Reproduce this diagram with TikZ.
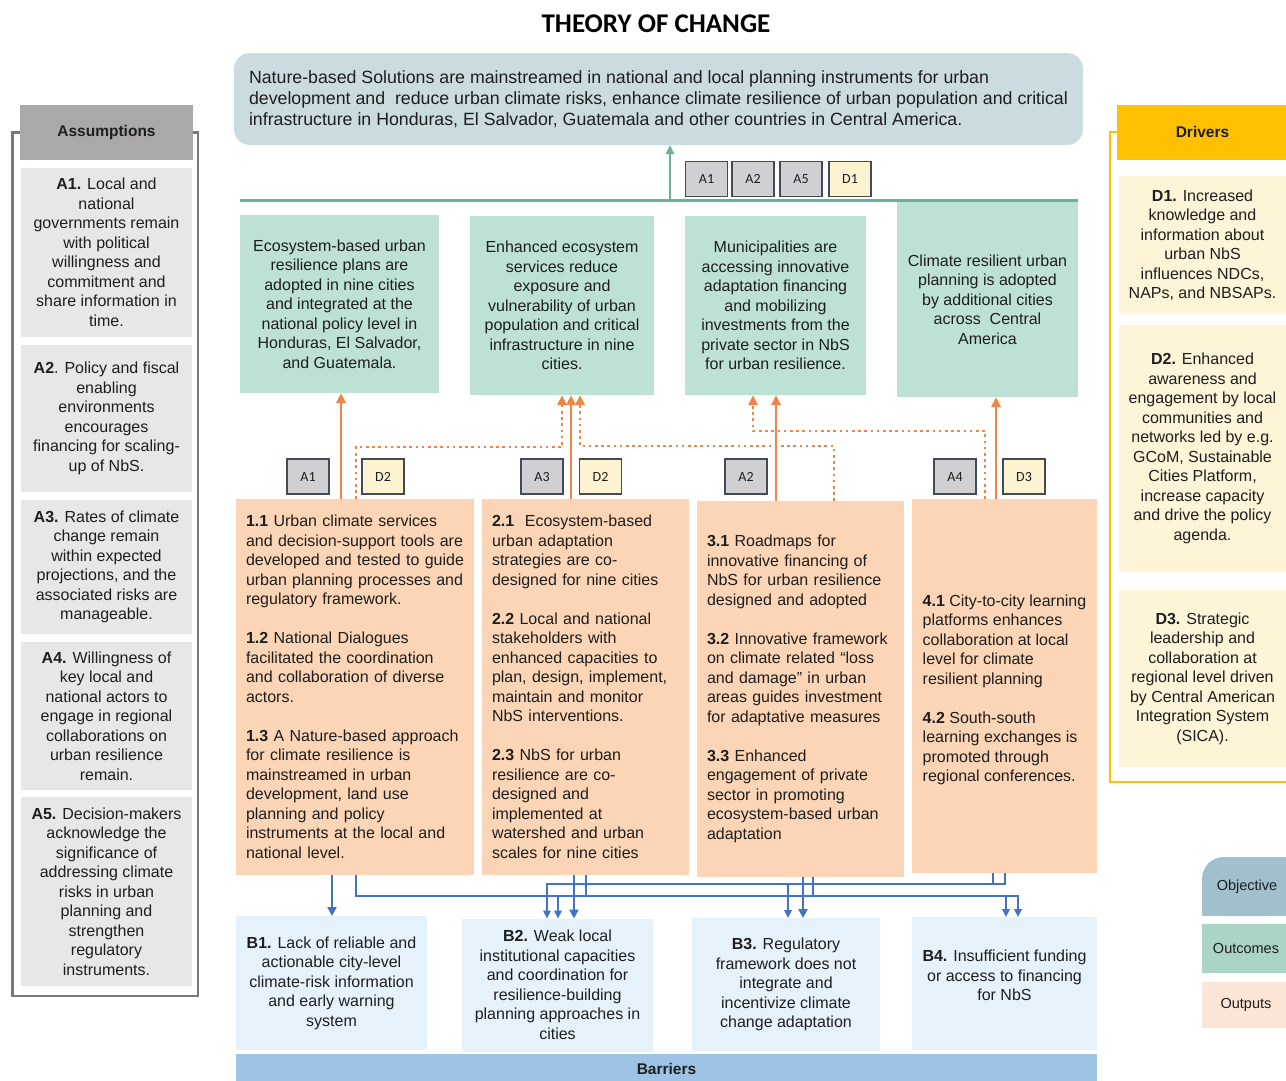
\documentclass[tikz,border=0pt]{standalone}
\usepackage{fontspec}
\setmainfont{Liberation Sans}
\newfontfamily\calib{Carlito}
\usetikzlibrary{arrows.meta}
\definecolor{txt}{HTML}{1E1E1E}
\definecolor{objfill}{HTML}{CBDCE0}
\definecolor{outcfill}{HTML}{BEE1D6}
\definecolor{outpfill}{HTML}{FBD5B5}
\definecolor{barfill}{HTML}{E6F2FB}
\definecolor{barbar}{HTML}{9DC3E6}
\definecolor{asmcell}{HTML}{E7E7E7}
\definecolor{asmhead}{HTML}{ABA8A8}
\definecolor{asmline}{HTML}{7A7A7A}
\definecolor{drvcell}{HTML}{FEF4D7}
\definecolor{drvhead}{HTML}{FFC000}
\definecolor{taggray}{HTML}{D0CFD3}
\definecolor{tagyel}{HTML}{FEF3D0}
\definecolor{tagline}{HTML}{434A58}
\definecolor{grn}{HTML}{6FAE9A}
\definecolor{org}{HTML}{EF8546}
\definecolor{blu}{HTML}{4472C4}
\definecolor{legobj}{HTML}{9FC0CC}
\definecolor{legoutc}{HTML}{A9D4C6}
\definecolor{legoutp}{HTML}{FCE4D6}
\newcommand\bodyf{\fontsize{16}{19.5}\selectfont}
\newcommand\objf{\fontsize{17.75}{21}\selectfont}
\newcommand\headf{\fontsize{15.5}{18}\selectfont\bfseries}
\newcommand\legf{\fontsize{14.5}{17}\selectfont}
\newcommand\tagf{\calib\fontsize{14}{16}\selectfont}
\begin{document}
\begin{tikzpicture}[x=1pt,y=-1pt,
  box/.style={inner sep=0pt, outer sep=0pt, text=txt, font=\bodyf},
  wh/.style 2 args={minimum width=#1pt, minimum height=#2pt},
  outc/.style={box, fill=outcfill, align=center},
  outp/.style={box, fill=outpfill, align=left},
  barr/.style={box, fill=barfill, align=center},
  asm/.style={box, fill=asmcell, align=center},
  drv/.style={box, fill=drvcell, align=center},
  tagg/.style={draw=tagline, line width=1.4pt, fill=taggray, inner sep=0pt, wh={42}{35}, font=\tagf, text=txt},
  tagy/.style={tagg, fill=tagyel},
  osolid/.style={draw=org, line width=2.6pt, -{Triangle[length=10pt,width=9pt]}},
  odot/.style={draw=org, line width=2.6pt, dash pattern=on 2.6pt off 3.6pt, -{Triangle[length=10pt,width=9pt]}},
  bthick/.style={draw=blu, line width=2.8pt, -{Triangle[length=9pt,width=9pt]}},
  bthin/.style={draw=blu, line width=2pt},
  btip/.style={bthin, -{Triangle[length=8pt,width=7.5pt]}},
]
\useasboundingbox (0,0) rectangle (1286,1080);
\fill[white] (0,0) rectangle (1286,1080);

% title
\node[font=\calib\bfseries\fontsize{27}{30}\selectfont, text=black, inner sep=0pt] (title) at (656,24) {THEORY OF CHANGE};

% objective
\node[box, fill=objfill, rounded corners=16pt, wh={849}{92}, align=left, font=\objf] (obj) at (658.5,99)
 {Nature-based Solutions are mainstreamed in national and local planning instruments for urban\\development and\ \ reduce urban climate risks, enhance climate resilience of urban population and critical\\infrastructure in Honduras, El Salvador, Guatemala and other countries in Central America.};

% green line and arrow
\coordinate (gl1) at (240,200);
\coordinate (gl2) at (1078,200);
\draw[grn, line width=3pt] (gl1) -- (gl2);
\draw[grn, line width=2.6pt, -{Triangle[length=9pt,width=8pt]}] (670,0 |- gl1) -- (670,0 |- obj.south);

% top tags
\node[tagg] (ta1) at (706.5,179) {A1};
\node[tagg] (ta2) at (753,179) {A2};
\node[tagg] (ta5) at (801,179) {A5};
\node[tagy] (td1) at (850,179) {D1};

% outcomes
\node[outc, wh={199}{178}] (o1) at (339.5,304) {Ecosystem-based urban\\resilience plans are\\adopted in nine cities\\and integrated at the\\national policy level in\\Honduras, El Salvador,\\and Guatemala.};
\node[outc, wh={184}{179}] (o2) at (562,305.5) {Enhanced ecosystem\\services reduce\\exposure and\\vulnerability of urban\\population and critical\\infrastructure in nine\\cities.};
\node[outc, wh={181}{179}] (o3) at (775.5,305.5) {Municipalities are\\accessing innovative\\adaptation financing\\and mobilizing\\investments from the\\private sector in NbS\\for urban resilience.};
\node[outc, wh={181}{195}] (o4) at (987.5,299.5) {Climate resilient urban\\planning is adopted\\by additional cities\\across\ \ Central\\America};

% second-row tags
\node[tagg] (tb1) at (308,476.5) {A1};
\node[tagy] (tb2) at (383,476.5) {D2};
\node[tagg] (tb3) at (542,476.5) {A3};
\node[tagy] (tb4) at (600.5,476.5) {D2};
\node[tagg] (tb5) at (746,476.5) {A2};
\node[tagg] (tb6) at (955,476.5) {A4};
\node[tagy] (tb7) at (1024,476.5) {D3};

% outputs
\node[outp, wh={238}{376}, text width=218pt, inner xsep=10pt] (p1) at (355,687) {\textbf{1.1} Urban climate services\\and decision-support tools are\\developed and tested to guide\\urban planning processes and\\regulatory framework.\\[19.5pt]\textbf{1.2} National Dialogues\\facilitated the coordination\\and collaboration of diverse\\actors.\\[19.5pt]\textbf{1.3} A Nature-based approach\\for climate resilience is\\mainstreamed in urban\\development, land use\\planning and policy\\instruments at the local and\\national level.};
\node[outp, wh={207}{376}, text width=187pt, inner xsep=10pt] (p2) at (585.5,687) {\textbf{2.1}\ \ Ecosystem-based\\urban adaptation\\strategies are co-\\designed for nine cities\\[19.5pt]\textbf{2.2} Local and national\\stakeholders with\\enhanced capacities to\\plan, design, implement,\\maintain and monitor\\NbS interventions.\\[19.5pt]\textbf{2.3} NbS for urban\\resilience are co-\\designed and\\implemented at\\watershed and urban\\scales for nine cities};
\node[outp, wh={207}{376}, text width=187pt, inner xsep=10pt] (p3) at (800.5,689) {\textbf{3.1} Roadmaps for\\innovative financing of\\NbS for urban resilience\\designed and adopted\\[19.5pt]\textbf{3.2} Innovative framework\\on climate related “loss\\and damage” in urban\\areas guides investment\\for adaptative measures\\[19.5pt]\textbf{3.3} Enhanced\\engagement of private\\sector in promoting\\ecosystem-based urban\\adaptation};
\node[outp, wh={185}{374}] (p4) at (1004.5,686) {\mbox{}\\\textbf{4.1} City-to-city learning\\platforms enhances\\collaboration at local\\level for climate\\resilient planning\\[19.5pt]\textbf{4.2} South-south\\learning exchanges is\\promoted through\\regional conferences.};

% barriers
\node[barr, wh={191}{134}] (b1) at (331.5,983) {\textbf{B1.} Lack of reliable and\\actionable city-level\\climate-risk information\\and early warning\\system};
\node[barr, wh={191}{133}] (b2) at (557.5,985) {\textbf{B2.} Weak local\\institutional capacities\\and coordination for\\resilience-building\\planning approaches in\\cities};
\node[barr, wh={188}{133}] (b3) at (786,984.5) {\textbf{B3.} Regulatory\\framework does not\\integrate and\\incentivize climate\\change adaptation};
\node[barr, wh={185}{133}] (b4) at (1004.5,983.5) {\textbf{B4.} Insufficient funding\\or access to financing\\for NbS\\[-3.5pt]};
\node[box, fill=barbar, wh={861}{30}, font=\headf, text=txt] (bar) at (666.5,1069) {Barriers};

% assumptions
\node[box, fill=asmhead, wh={173}{55}, font=\headf] (asmh) at (106.5,132.5) {Assumptions};
\draw[asmline, line width=2.6pt] (asmh.west) -- ++(-7.5,0) |- (198,996) |- (asmh.east);
\node[asm, wh={171}{169}] (a1) at (106.5,252.5) {\textbf{A1.} Local and\\national\\governments remain\\with political\\willingness and\\commitment and\\share information in\\time.};
\node[asm, wh={171}{147}] (a2) at (106.5,418.5) {\textbf{A2}. Policy and fiscal\\enabling\\environments\\encourages\\financing for scaling-\\up of NbS.};
\node[asm, wh={171}{134}] (a3) at (106.5,567) {\textbf{A3.} Rates of climate\\change remain\\within expected\\projections, and the\\associated risks are\\manageable.};
\node[asm, wh={171}{148}] (a4) at (106.5,716) {\textbf{A4.} Willingness of\\key local and\\national actors to\\engage in regional\\collaborations on\\urban resilience\\remain.};
\node[asm, wh={171}{189}] (a5) at (106.5,891.5) {\textbf{A5.} Decision-makers\\acknowledge the\\significance of\\addressing climate\\risks in urban\\planning and\\strengthen\\regulatory\\instruments.};

% drivers
\node[box, fill=drvhead, wh={171}{55}, font=\headf] (drvh) at (1202.5,132) {Drivers};
\draw[drvhead, line width=2.4pt] (drvh.west) -- (1110,0 |- drvh.west) |- (1290,782);
\node[drv, wh={167}{138}] (d1) at (1202.5,245) {\textbf{D1.} Increased\\knowledge and\\information about\\urban NbS\\influences NDCs,\\NAPs, and NBSAPs.};
\node[drv, wh={167}{247}] (d2) at (1202.5,448.5) {\textbf{D2.} Enhanced\\awareness and\\engagement by local\\communities and\\networks led by e.g.\\GCoM, Sustainable\\Cities Platform,\\increase capacity\\and drive the policy\\agenda.};
\node[drv, wh={167}{177}] (d3) at (1202.5,678.5) {\textbf{D3.} Strategic\\leadership and\\collaboration at\\regional level driven\\by Central American\\Integration System\\(SICA).};

% legend
\fill[legobj, rounded corners=22pt] (1202,857) rectangle (1290,916);
\fill[legobj] (1240,857) rectangle (1290,916);
\fill[legobj] (1202,885) rectangle (1290,916);
\node[box, wh={84}{59}, font=\legf] (lobj) at (1247,887) {Objective};
\node[box, fill=legoutc, wh={88}{49}, font=\legf] (loutc) at (1246,948.5) {Outcomes};
\node[box, fill=legoutp, wh={88}{46}, font=\legf] (loutp) at (1246,1005) {Outputs};

% orange connectors (outputs -> outcomes)
\draw[osolid] (341,0 |- p1.north) -- (341,0 |- o1.south);
\draw[odot] (356,0 |- p1.north) |- (562,447) -- (562,0 |- o2.south);
\draw[osolid] (571,0 |- p2.north) -- (571,0 |- o2.south);
\draw[odot] (834,0 |- p3.north) |- (580,446) -- (580,0 |- o2.south);
\draw[odot] (985,0 |- p4.north) |- (753,431) -- (753,0 |- o3.south);
\draw[osolid] (776,0 |- p3.north) -- (776,0 |- o3.south);
\draw[osolid] (996,0 |- p4.north) -- (996,0 |- o4.south);

% blue connectors (outputs -> barriers)
\coordinate (busL) at (0,896);
\coordinate (busU) at (0,884);
\draw[bthin] (993,0 |- p4.south) -- (993,0 |- busU);
\draw[btip] (1005,0 |- p4.south) -- (1005,0 |- busU) -- (547,0 |- busU) -- (547,0 |- b2.north);
\draw[btip] (788,0 |- busU) -- (788,0 |- b3.north);
\draw[btip] (356,0 |- p1.south) |- (1018,0 |- busL) -- (1018,0 |- b4.north);
\draw[bthin] (586,0 |- p2.south) -- (586,0 |- busL);
\draw[bthin] (813,0 |- p3.south) -- (813,0 |- busL);
\draw[btip] (558,0 |- busL) -- (558,0 |- b2.north);
\draw[btip] (1006,0 |- busL) -- (1006,0 |- b4.north);
\draw[bthick] (332,0 |- p1.south) -- (332,0 |- b1.north);
\draw[bthick] (574,0 |- p2.south) -- (574,0 |- b2.north);
\draw[bthick] (803,0 |- p3.south) -- (803,0 |- b3.north);
\end{tikzpicture}
\end{document}
